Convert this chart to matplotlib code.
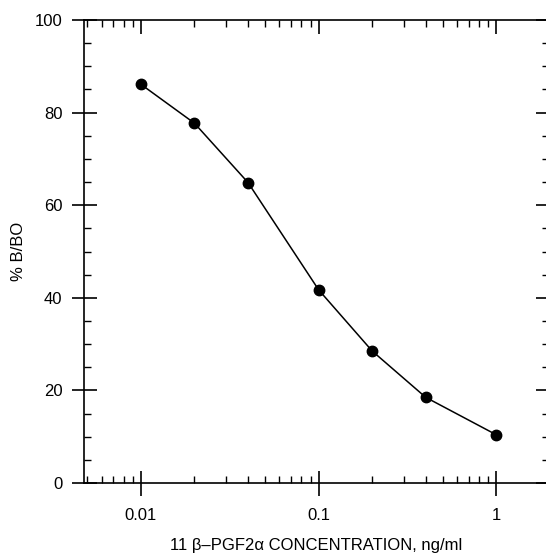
import matplotlib
matplotlib.use("Agg")
import matplotlib.pyplot as plt
from matplotlib.ticker import LogLocator, FixedLocator, NullFormatter, FixedFormatter, MultipleLocator

plt.rcParams['font.family'] = ['Liberation Sans', 'DejaVu Sans']

# data
concentration = [0.01, 0.02, 0.04, 0.1, 0.2, 0.4, 1.0]
pct_b_bo = [86.1, 77.7, 64.9, 41.7, 28.5, 18.5, 10.4]
xtick_values = [0.01, 0.1, 1]
xtick_labels = ["0.01", "0.1", "1"]
ytick_values = [0, 20, 40, 60, 80, 100]

W, H = 546, 555
fig = plt.figure(figsize=(W / 100, H / 100), dpi=100)
left, right, top, bottom = 84, 548, 20, 483
ax = fig.add_axes([left / W, 1 - bottom / H, (right - left) / W, (bottom - top) / H])

ax.plot(concentration, pct_b_bo, color='black', lw=1.1, marker='o', ms=7.5,
        mfc='black', mec='black', zorder=3)

ax.set_xscale('log')
ax.set_xlim(0.00478, 1.95)
ax.set_ylim(0, 100)

ax.xaxis.set_major_locator(FixedLocator(xtick_values))
ax.xaxis.set_major_formatter(FixedFormatter(xtick_labels))
ax.xaxis.set_minor_locator(LogLocator(base=10, subs=range(2, 10), numticks=20))
ax.xaxis.set_minor_formatter(NullFormatter())
ax.yaxis.set_major_locator(FixedLocator(ytick_values))
ax.yaxis.set_minor_locator(MultipleLocator(5))

for sp in ax.spines.values():
    sp.set_linewidth(1.2)

ax.tick_params(which='major', direction='inout', length=18, width=1.2,
               labelsize=12, pad=6.5, top=False, right=False)
ax.tick_params(which='minor', direction='in', length=5, width=1.0,
               top=False, right=False)
ax.tick_params(axis='x', which='major', pad=9)

# top ticks (inward only)
axt = ax.twiny()
axt.set_xscale('log')
axt.set_xlim(ax.get_xlim())
axt.xaxis.set_major_locator(FixedLocator(xtick_values))
axt.xaxis.set_minor_locator(LogLocator(base=10, subs=range(2, 10), numticks=20))
axt.xaxis.set_major_formatter(NullFormatter())
axt.xaxis.set_minor_formatter(NullFormatter())
axt.tick_params(which='major', direction='in', length=10, width=1.2, labeltop=False)
axt.tick_params(which='minor', direction='in', length=5, width=1.0, labeltop=False)
for sp in axt.spines.values():
    sp.set_visible(False)

# right ticks (inward only)
axr = ax.twinx()
axr.set_ylim(ax.get_ylim())
axr.yaxis.set_major_locator(FixedLocator(ytick_values))
axr.yaxis.set_minor_locator(MultipleLocator(5))
axr.tick_params(which='major', direction='in', length=9, width=1.2, labelright=False)
axr.tick_params(which='minor', direction='in', length=4, width=1.0, labelright=False)
for sp in axr.spines.values():
    sp.set_visible(False)

ax.set_xlabel("11 \u03b2\u2013PGF2\u03b1 CONCENTRATION, ng/ml", fontsize=12, labelpad=11)
ax.set_ylabel("% B/BO", fontsize=12, labelpad=6)

fig.savefig("out.png", dpi=100)
